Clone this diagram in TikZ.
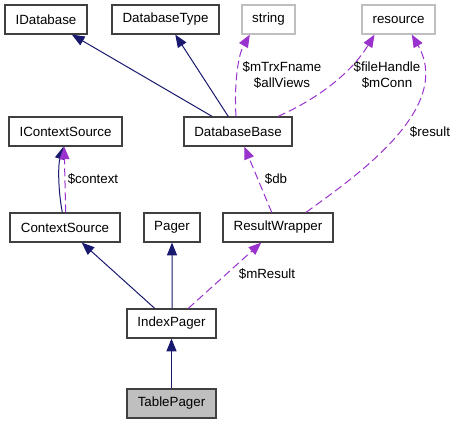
\documentclass[tikz,border=0pt]{standalone}
\usepackage{fontspec}
\setmainfont{Liberation Sans}
\usetikzlibrary{arrows.meta}

\definecolor{edgeblue}{HTML}{191970}
\definecolor{edgepurple}{HTML}{9A32CD}
\definecolor{boxgray}{HTML}{BFBFBF}
\definecolor{boxborder}{HTML}{404040}

\begin{document}
\begin{tikzpicture}[
  x=0.75pt, y=-0.75pt,
  font=\fontsize{10}{12}\selectfont,
  cls/.style={draw=boxborder, line width=0.9pt, minimum width=#1, minimum height=21.75pt, inner sep=0pt, fill=white},
  ext/.style={cls=#1, draw=boxgray},
  inh/.style={draw=edgeblue, line width=0.75pt, -{Triangle[length=9.5pt,width=7.5pt]}},
  use/.style={draw=edgepurple, line width=0.75pt, dash pattern=on 6pt off 3pt, -{Triangle[length=9.5pt,width=7.5pt]}},
  lbl/.style={align=center, inner sep=0pt, font=\fontsize{10}{12}\selectfont}
]
\useasboundingbox (0,0) rectangle (456,424);

% classes
\node[cls=61.5pt] (idatabase) at (46,19.5) {IDatabase};
\node[cls=80.25pt] (dbtype) at (165.5,19.5) {DatabaseType};
\node[ext=39.75pt] (str) at (268.5,19.5) {string};
\node[ext=54.75pt] (res) at (398.5,19.5) {resource};
\node[cls=84.75pt] (icontext) at (65.5,131.5) {IContextSource};
\node[cls=81pt] (dbbase) at (238,131.5) {DatabaseBase};
\node[cls=82.5pt] (ctxsource) at (65,227.5) {ContextSource};
\node[cls=42pt] (pager) at (172,227.5) {Pager};
\node[cls=82.5pt] (resultwrap) at (278,227.5) {ResultWrapper};
\node[cls=66.75pt] (indexpager) at (171.5,323.5) {IndexPager};
\node[cls=66.75pt, fill=boxgray] (tablepager) at (171.5,403.5) {TablePager};

% inheritance
\draw[inh] (dbbase) -- (idatabase);
\draw[inh] (dbbase) -- (dbtype);
\draw[inh] ([xshift=-2pt]ctxsource.north) .. controls (58,190) and (58,165) .. ([xshift=-1.5pt]icontext.south);
\draw[inh] (indexpager) -- (ctxsource);
\draw[inh] ([xshift=0.4pt]indexpager.north) -- ([xshift=0pt]pager.south);
\draw[inh] (tablepager) -- (indexpager);

% usage
\draw[use] ([xshift=-1.5pt]dbbase.north) .. controls (234,85) and (238,55) .. ([xshift=-14pt]str.south);
\draw[use] ([xshift=30pt]dbbase.north) .. controls (315,100) and (350,75) .. ([xshift=-18pt]res.south);
\draw[use] ([xshift=21pt]resultwrap.north) .. controls (350,180) and (455,110) .. ([xshift=10pt]res.south);
\draw[use] ([xshift=0.5pt]ctxsource.north) -- ([xshift=-1pt]icontext.south);
\draw[use] (resultwrap) -- (dbbase);
\draw[use] (indexpager) -- (resultwrap);

% labels
\node[lbl] (lblstr) at (282,75) {\$mTrxFname\\\$allViews};
\node[lbl] (lblres) at (387,75) {\$fileHandle\\\$mConn};
\node[lbl] (lblresult) at (430,132) {\$result};
\node[lbl] (lblcontext) at (93,179) {\$context};
\node[lbl] (lbldb) at (276,179) {\$db};
\node[lbl] (lblmresult) at (267,274) {\$mResult};
\end{tikzpicture}
\end{document}
